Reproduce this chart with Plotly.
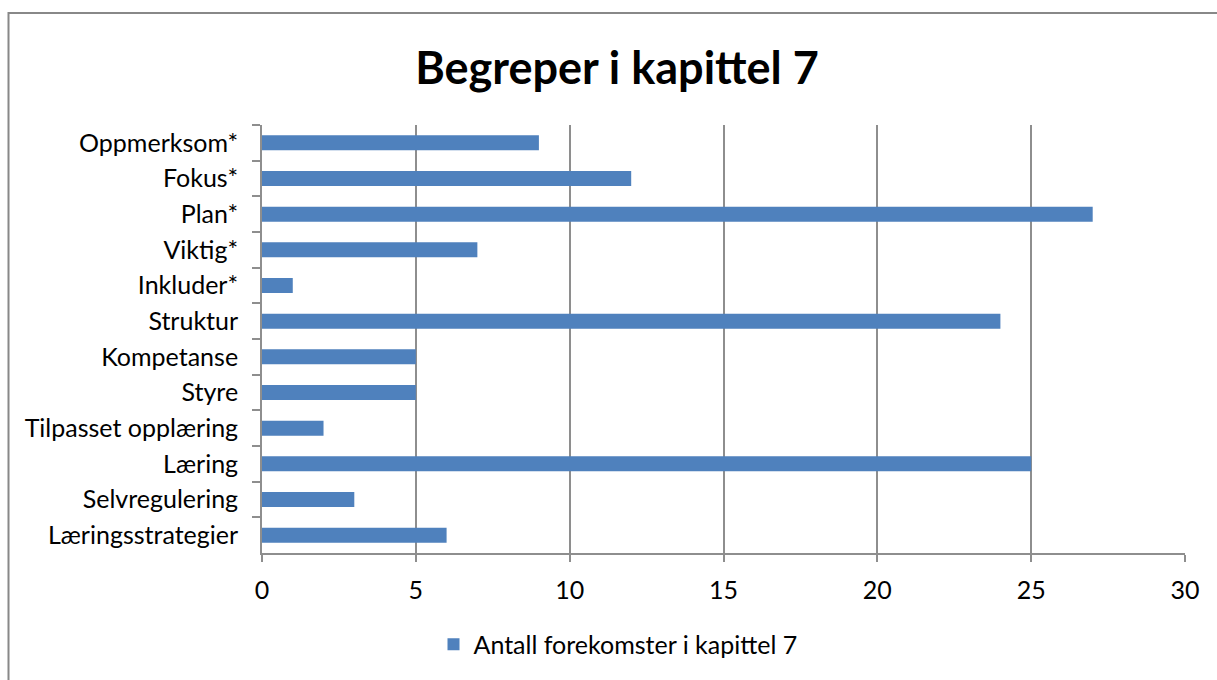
import plotly.graph_objects as go

categories = ["Oppmerksom*", "Fokus*", "Plan*", "Viktig*", "Inkluder*", "Struktur",
              "Kompetanse", "Styre", "Tilpasset opplæring", "Læring", "Selvregulering",
              "Læringsstrategier"]
values = [9, 12, 27, 7, 1, 24, 5, 5, 2, 25, 3, 6]
series_name = "Antall forekomster i kapittel 7"
title_text = "Begreper i kapittel 7"
x_ticks = [0, 5, 10, 15, 20, 25, 30]

FONT = "Lato"
GRID = "#8E8E8E"
fig = go.Figure()
fig.add_trace(go.Bar(
    y=categories, x=values, orientation="h", name=series_name,
    marker=dict(color="#4F81BD", line=dict(width=0)),
    showlegend=True,
))

fig.update_layout(
    width=1217, height=680,
    margin=dict(l=262, r=32, t=125, b=125),
    paper_bgcolor="white", plot_bgcolor="white",
    font=dict(family=FONT, size=25, color="black"),
    title=dict(text="<b>" + title_text + "</b>", x=0.507, xanchor="center",
               y=1 - 68 / 680, yanchor="middle",
               font=dict(family=FONT, size=45, color="black")),
    bargap=0.58,
    showlegend=True,
    legend=dict(orientation="h", x=(618 - 262) / 923, xanchor="center",
                y=(555 - 647) / 430, yanchor="middle",
                font=dict(family=FONT, size=25), itemsizing="constant"),
    xaxis=dict(range=[0, 30], tickvals=x_ticks, showgrid=True, gridcolor=GRID,
               gridwidth=1.8, showline=True, linecolor=GRID, linewidth=1.8,
               ticks="outside", ticklen=7, tickcolor=GRID, tickwidth=1.8,
               zeroline=False, ticklabelstandoff=7),
    yaxis=dict(autorange="reversed", showline=True, linecolor=GRID, linewidth=1.8,
               ticks="outside", ticklen=8, tickcolor=GRID, tickwidth=1.8,
               tickson="boundaries", showgrid=False, ticklabelstandoff=17),
    shapes=[dict(type="rect", xref="paper", yref="paper",
                 x0=(8.5 - 262) / 923, x1=(1230 - 262) / 923,
                 y0=(555 - 700) / 430, y1=(555 - 12.5) / 430,
                 line=dict(color="#888888", width=2), fillcolor="rgba(0,0,0,0)",
                 layer="below")],
)

fig.write_html("out.html", config={"displayModeBar": False},
               post_script="document.body.style.margin='0';")
